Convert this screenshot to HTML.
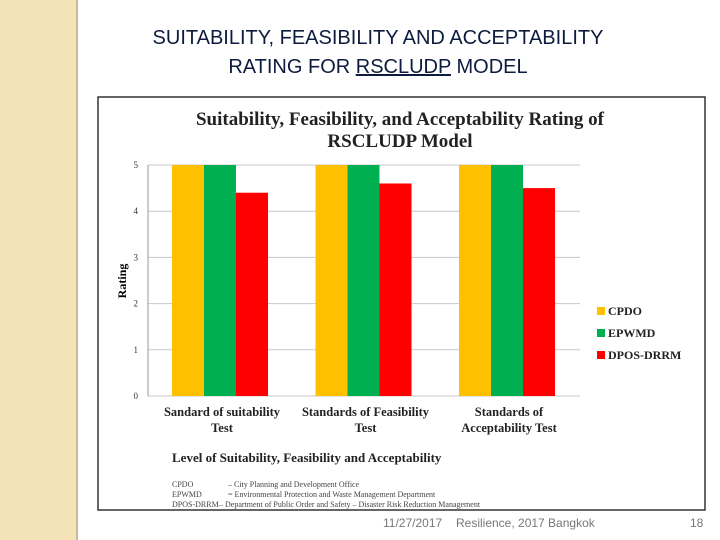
<!DOCTYPE html>
<html><head><meta charset="utf-8"><style>
body{margin:0;width:720px;height:540px;background:#fff;position:relative;overflow:hidden;font-family:"Liberation Sans",sans-serif}
.strip{position:absolute;left:0;top:0;width:76px;height:540px;background:#f5e3b8;border-right:2px solid #c9b99a}
.title{position:absolute;left:78px;width:600px;top:24px;text-align:center;font-size:20px;line-height:29px;color:#0d1b3e}
.foot{position:absolute;top:516px;font-size:12px;color:#777}
</style></head><body>
<div class="strip"></div>
<div class="title">SUITABILITY, FEASIBILITY AND ACCEPTABILITY<br>RATING FOR <u>RSCLUDP</u> MODEL</div>
<svg id="chart" style="position:absolute;left:0;top:0" width="720" height="540" font-family="Liberation Serif, serif"></svg>
<div class="foot" style="left:383px">11/27/2017</div>
<div class="foot" style="left:456px">Resilience, 2017 Bangkok</div>
<div class="foot" style="left:690px">18</div>
<script>
const categories=["Sandard of suitability|Test","Standards of Feasibility|Test","Standards of|Acceptability Test"];
const seriesNames=["CPDO","EPWMD","DPOS-DRRM"];
const cpdo=[5,5,5];
const epwmd=[5,5,5];
const dpos=[4.4,4.6,4.5];
const yTicks=[0,1,2,3,4,5];
const colors=["#ffc000","#00b050","#ff0000"];
const svg=document.getElementById('chart');
const NS="http://www.w3.org/2000/svg";
function mk(t,a,txt){const e=document.createElementNS(NS,t);for(const k in a)e.setAttribute(k,a[k]);if(txt!==undefined)e.textContent=txt;svg.appendChild(e);return e;}
const x0=148,x1=580,yb=396,yt=165;
const y=v=>yb-(yb-yt)*v/5;
const cx=i=>220+i*143.5;
let e=mk('rect',{x:98,y:97,width:607,height:413,fill:'#fff',stroke:'#333','stroke-width':1.5});

e=mk('text',{x:400,y:125,'text-anchor':'middle','font-size':19,'font-weight':'bold',fill:'#222'},'Suitability, Feasibility, and Acceptability Rating of');

e=mk('text',{x:400,y:147,'text-anchor':'middle','font-size':19,'font-weight':'bold',fill:'#222'},'RSCLUDP Model');

yTicks.forEach(t=>{
 e=mk('line',{x1:x0,x2:x1,y1:y(t),y2:y(t),stroke:'#c8c8c8'});
 
 e=mk('text',{x:x0-10,y:y(t)+3,'text-anchor':'end','font-size':9,fill:'#333'},t);
 
});
e=mk('line',{x1:x0,x2:x0,y1:yt,y2:yb,stroke:'#999'});

e=mk('text',{x:126,y:281,'text-anchor':'middle','font-size':12,'font-weight':'bold',transform:'rotate(-90 126 281)'},'Rating');

const data=[cpdo,epwmd,dpos];
categories.forEach((c,i)=>{
 data.forEach((s,j)=>{
  e=mk('rect',{x:cx(i)-48+j*32,y:y(s[i]),width:32,height:yb-y(s[i]),fill:colors[j]});
  
 });
 c.split('|').forEach((l,k)=>{
  e=mk('text',{x:cx(i)+2,y:416+k*16,'text-anchor':'middle','font-size':12.5,'font-weight':'bold',fill:'#222'},l);
  
 });
});
seriesNames.forEach((n,j)=>{
 e=mk('rect',{x:597,y:307+j*22,width:8,height:8,fill:colors[j]});
 
 e=mk('text',{x:608,y:315+j*22,'font-size':12,'font-weight':'bold',fill:'#222'},n);
 
});
e=mk('text',{x:172,y:462,'font-size':13,'font-weight':'bold',fill:'#222'},'Level of Suitability, Feasibility and Acceptability');

[["CPDO","– City Planning and Development Office"],["EPWMD","= Environmental Protection and Waste Management Department"],["DPOS-DRRM","– Department of Public Order and Safety – Disaster Risk Reduction Management"]].forEach((r,k)=>{
 e=mk('text',{x:172,y:487+k*10,'font-size':8,fill:'#444'},r[0]);
 
 e=mk('text',{x:k==2?219:228,y:487+k*10,'font-size':8,fill:'#444'},r[1]);
 
});
</script>
</body></html>
